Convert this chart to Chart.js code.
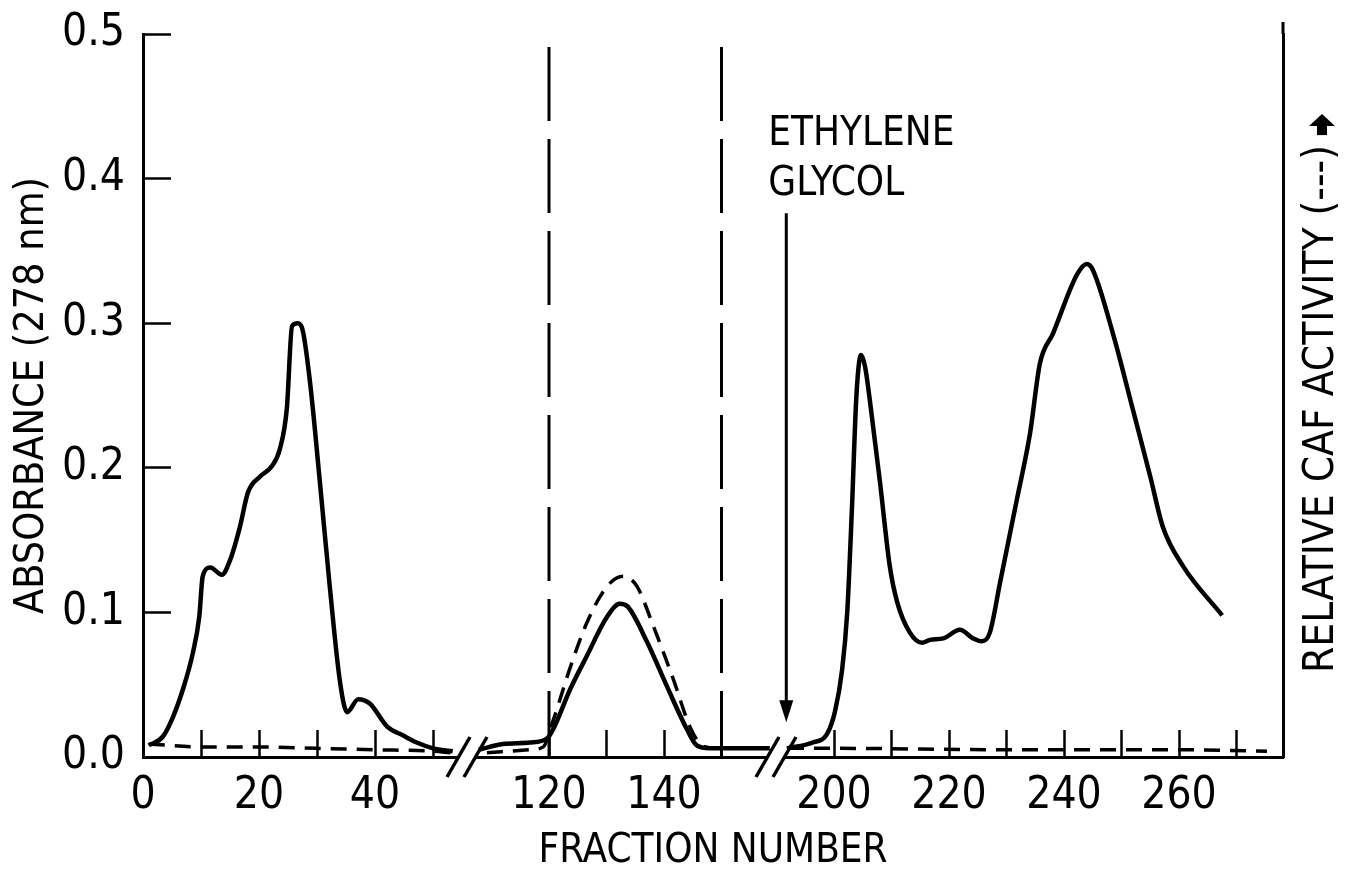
<!DOCTYPE html>
<html>
<head>
<meta charset="utf-8">
<title>Fraction number chart</title>
<script src="https://cdn.jsdelivr.net/npm/chart.js"></script>
<style>
  body { margin: 0; background: #fff; }
  canvas { display: block; }
</style>
</head>
<body>
<canvas id="chart" width="1353" height="878"></canvas>
<script>
const FONT = '"Liberation Sans Narrow", "DejaVu Sans Condensed", "Arial Narrow", sans-serif';

// absorbance (solid line), null = axis break
const absorbanceFractions = [
    1, 3.4, 5.2, 6.9, 8.6, 9.7, 10.3, 11.6, 13.6, 15, 16.7, 18.1, 20.2, 22.2, 23.6, 24.8, 25.7, 26.6, 27.4, 28.8,
    30.5, 32.2, 34, 35.2, 37.1, 39.1, 42.1, 44.8, 47.2, 50, 53.4,
    80,
    107.8, 112, 116.7, 119.7, 120.7, 123.7, 126.6, 130.1, 132.3, 133.7, 137, 140.5, 144, 145.7, 148, 155.5, 158.4,
    175,
    191.8, 196.3, 198.8, 200.2, 201.4, 202.3, 203.1, 203.9, 204.7, 205.4, 206.6, 208, 209.7, 211, 213.2, 215.3,
    216.7, 219, 221.9, 224.2, 225.7, 227.1, 228.9, 231.8, 234.1, 235.8, 238.1, 242.3, 244, 245, 248.5, 252, 255,
    257.2, 260.7, 267.5
];
const absorbanceValues = [
    0.008, 0.014, 0.028, 0.047, 0.072, 0.097, 0.125, 0.131, 0.126, 0.136, 0.159, 0.183, 0.194, 0.201, 0.213, 0.241,
    0.298, 0.300, 0.297, 0.259, 0.190, 0.118, 0.051, 0.031, 0.040, 0.037, 0.021, 0.015, 0.010, 0.006, 0.004,
    null,
    0.005, 0.009, 0.010, 0.013, 0.019, 0.047, 0.070, 0.097, 0.106, 0.104, 0.080, 0.049, 0.019, 0.008, 0.006, 0.006, 0.006,
    null,
    0.006, 0.010, 0.016, 0.032, 0.060, 0.100, 0.170, 0.250, 0.278, 0.270, 0.235, 0.190, 0.132, 0.107, 0.086, 0.079,
    0.081, 0.082, 0.088, 0.082, 0.080, 0.086, 0.121, 0.178, 0.224, 0.272, 0.293, 0.334, 0.341, 0.337, 0.293, 0.240,
    0.194, 0.159, 0.132, 0.098
];

// relative CAF activity (dashed line)
const cafFractions = [1, 10, 20, 30, 40, 50, 53, 80, 109.2, 116.7, 119, 120.7, 123.7, 126.6, 130.1, 132.9, 135.3,
    138.1, 141.6, 144.5, 146.3, 148, 175, 192, 200, 230, 260, 275.3];
const cafValues = [0.009, 0.007, 0.007, 0.006, 0.005, 0.004, 0.003, null, 0.003, 0.005, 0.007, 0.025, 0.062, 0.093,
    0.118, 0.125, 0.118, 0.091, 0.054, 0.021, 0.009, 0.006, null, 0.006, 0.006, 0.005, 0.005, 0.004];

// pooled fractions (vertical dashed lines)
const markerFractions = [120, 150];
const markerTop = 0.491;

// ethylene glycol arrow
const glycolFraction = 191.7;
const glycolTop = 0.376;
const glycolTip = 0.024;

const xTickFractions = [0, 10, 20, 30, 40, 50, 120, 130, 140, 150, 200, 210, 220, 230, 240, 250, 260, 270];
const xTickLabels = ['0', '', '20', '', '40', '', '120', '', '140', '', '200', '', '220', '', '240', '', '260', ''];

const rightTitle = 'RELATIVE CAF ACTIVITY (---)';

// broken x axis: three pieces laid side by side
function toAxis(f){
    if(f < 80) return 5.8 * f;
    if(f < 175) return 406 + 5.75 * (f - 120);
    return 691 + 5.75 * (f - 200);
}
const axisBreaks = [324, 633];

function points(fr, vals){
    return fr.map((f, i) => ({ x: toAxis(f), y: vals[i] }));
}

function noPad(s){
    s.paddingTop = 0;
    s.paddingBottom = 0;
    s.paddingLeft = 0;
    s.paddingRight = 0;
}

const extras = {
    id: 'extras',
    afterDraw(chart){
        const { ctx, chartArea, scales: { x, y } } = chart;
        ctx.save();
        ctx.strokeStyle = '#000';
        ctx.fillStyle = '#000';

        // right axis runs a bit above the plot
        ctx.lineWidth = 3;
        ctx.beginPath();
        ctx.moveTo(chartArea.right, chartArea.top - 12);
        ctx.lineTo(chartArea.right, chartArea.top);
        ctx.stroke();

        // axis breaks
        axisBreaks.forEach(d => {
            const px = x.getPixelForValue(d);
            const py = chartArea.bottom;
            ctx.fillStyle = '#fff';
            ctx.fillRect(px - 8, py - 3, 16, 6);
            ctx.lineWidth = 3.5;
            [-8.5, 8.5].forEach(o => {
                ctx.beginPath();
                ctx.moveTo(px + o - 11.5, py + 20);
                ctx.lineTo(px + o + 11.5, py - 20);
                ctx.stroke();
            });
        });

        // ethylene glycol arrow
        ctx.fillStyle = '#000';
        const ax = x.getPixelForValue(toAxis(glycolFraction));
        const aTop = y.getPixelForValue(glycolTop);
        const aTip = y.getPixelForValue(glycolTip);
        ctx.lineWidth = 3;
        ctx.beginPath();
        ctx.moveTo(ax, aTop);
        ctx.lineTo(ax, aTip - 18);
        ctx.stroke();
        ctx.beginPath();
        ctx.moveTo(ax - 7, aTip - 22);
        ctx.lineTo(ax + 7, aTip - 22);
        ctx.lineTo(ax, aTip);
        ctx.closePath();
        ctx.fill();

        ctx.font = '40px ' + FONT;
        ctx.textAlign = 'left';
        ctx.textBaseline = 'middle';
        ctx.fillText('ETHYLENE', ax - 18, aTop - 79);
        ctx.fillText('GLYCOL', ax - 18, aTop - 29);

        // right title, reads bottom to top
        ctx.font = '42px ' + FONT;
        ctx.translate(1322, 409);
        ctx.rotate(-Math.PI / 2);
        ctx.textAlign = 'center';
        ctx.fillText(rightTitle, 0, 0);
        const a0 = ctx.measureText(rightTitle).width / 2 + 10;
        ctx.fillRect(a0, -5, 11, 10);
        ctx.beginPath();
        ctx.moveTo(a0 + 9, -13);
        ctx.lineTo(a0 + 9, 13);
        ctx.lineTo(a0 + 21, 0);
        ctx.closePath();
        ctx.fill();

        ctx.restore();
    }
};

Chart.defaults.font.family = FONT;
Chart.defaults.color = '#000';

const markerSets = markerFractions.map(f => ({
    data: [{ x: toAxis(f), y: markerTop }, { x: toAxis(f), y: 0 }],
    borderColor: '#000',
    borderWidth: 3,
    borderDash: [74, 18],
    tension: 0
}));

new Chart(document.getElementById('chart'), {
    type: 'line',
    data: {
        datasets: [
            {
                label: 'Absorbance',
                data: points(absorbanceFractions, absorbanceValues),
                borderColor: '#000',
                borderWidth: 4.5,
                tension: 0.4,
                cubicInterpolationMode: 'monotone',
                spanGaps: false
            },
            {
                label: 'CAF activity',
                data: points(cafFractions, cafValues),
                borderColor: '#000',
                borderWidth: 3.5,
                borderDash: [16, 10],
                tension: 0.4,
                cubicInterpolationMode: 'monotone',
                spanGaps: false
            },
            ...markerSets
        ]
    },
    options: {
        responsive: false,
        animation: false,
        devicePixelRatio: 1,
        layout: { padding: { top: 34 } },
        elements: { point: { radius: 0 } },
        plugins: { legend: { display: false }, tooltip: { enabled: false } },
        scales: {
            x: {
                type: 'linear',
                min: 0,
                max: 1140,
                afterFit: s => { s.height = 121; noPad(s); },
                afterBuildTicks: s => { s.ticks = xTickFractions.map(f => ({ value: toAxis(f) })); },
                ticks: {
                    autoSkip: false,
                    maxRotation: 0,
                    padding: 40,
                    font: { size: 44, lineHeight: 1.2 },
                    callback: (v, i) => xTickLabels[i]
                },
                grid: { drawOnChartArea: false, tickLength: -27, tickWidth: 2.5, tickColor: '#000' },
                border: { display: true, color: '#000', width: 3 },
                title: {
                    display: true,
                    text: 'FRACTION NUMBER',
                    font: { size: 40, lineHeight: 1.2 },
                    padding: { top: 0, bottom: 2 }
                }
            },
            y: {
                min: 0,
                max: 0.5,
                afterFit: s => { s.width = 143; noPad(s); },
                ticks: {
                    stepSize: 0.1,
                    padding: 46,
                    font: { size: 44, lineHeight: 1.2 },
                    callback: v => v.toFixed(1)
                },
                grid: { drawOnChartArea: false, tickLength: -28, tickWidth: 2.5, tickColor: '#000' },
                border: { display: true, color: '#000', width: 3 },
                title: {
                    display: true,
                    text: 'ABSORBANCE (278 nm)',
                    font: { size: 41, lineHeight: 1.2 },
                    padding: { top: 8, bottom: 0 }
                }
            },
            y2: {
                position: 'right',
                min: 0,
                max: 0.5,
                afterFit: s => { s.width = 70; noPad(s); },
                ticks: { display: false },
                grid: { display: false },
                border: { display: true, color: '#000', width: 3 }
            }
        }
    },
    plugins: [extras]
});
</script>
</body>
</html>
